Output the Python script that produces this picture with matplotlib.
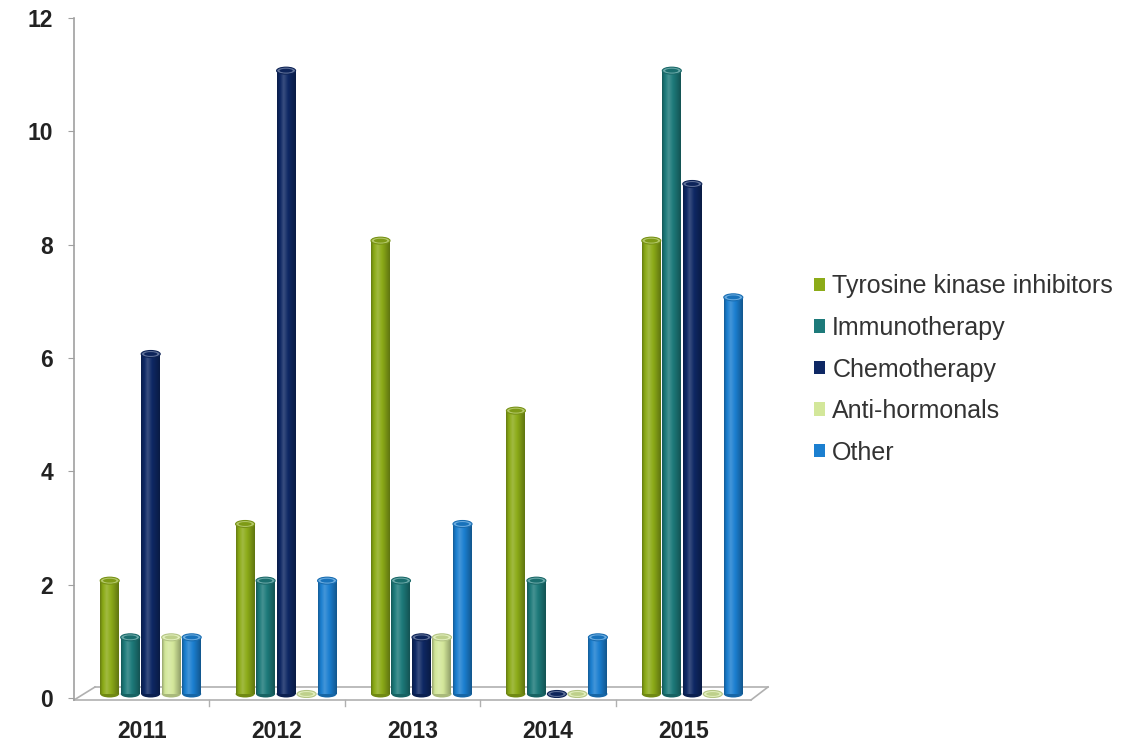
import numpy as np
import matplotlib
matplotlib.use("Agg")
import matplotlib.pyplot as plt
from matplotlib.patches import Ellipse, Patch
from matplotlib.colors import to_rgb

plt.rcParams['font.family'] = ['Liberation Sans', 'DejaVu Sans']

years = ["2011", "2012", "2013", "2014", "2015"]
series = ["Tyrosine kinase inhibitors", "Immunotherapy", "Chemotherapy", "Anti-hormonals", "Other"]
tki = [2, 3, 8, 5, 8]
immuno = [1, 2, 2, 2, 11]
chemo = [6, 11, 1, 0, 9]
anti = [1, 0, 1, 0, 0]
other = [1, 2, 3, 1, 7]
values = [tki, immuno, chemo, anti, other]
colors = ["#8cab18", "#1d7a7a", "#0e2864", "#d3e79a", "#1b7fd0"]
yticks = [0, 2, 4, 6, 8, 10, 12]

W, H = 1140, 744
fig = plt.figure(figsize=(W / 100, H / 100), dpi=100)
ax = fig.add_axes([74 / W, (H - 698) / H, (751 - 74) / W, (698 - 18) / H])
ax.set_xlim(-0.5, 4.5)
ax.set_ylim(0, 12)

px_x = 5 / (751 - 74)     # data units per px horizontally
px_y = 12 / (698 - 18)    # data units per px vertically

bw = 19 * px_x
step = 20.5 * px_x
shift = 9 * px_x
lift = 4 * px_y
cap_h = 7 * px_y

x = np.arange(len(years))

def shade(c, f):
    c = np.array(to_rgb(c))
    if f >= 1:
        return tuple(c + (1 - c) * (f - 1))
    return tuple(c * f)

t = np.linspace(0, 1, 64)
prof = np.interp(t, [0, 0.12, 0.35, 0.7, 1.0], [0.72, 0.95, 1.18, 0.92, 0.68])

for i, (vals, col) in enumerate(zip(values, colors)):
    pos = x + shift + (i - 2) * step
    bars = ax.bar(pos, vals, width=bw, bottom=lift, color=col, zorder=3, linewidth=0)
    for b, v in zip(bars, vals):
        x0, w, h = b.get_x(), b.get_width(), b.get_height()
        cx = x0 + w / 2
        if h > 0:
            grad = np.array([[shade(col, f) for f in prof]])
            ax.imshow(grad, extent=(x0, x0 + w, lift, lift + h), aspect='auto',
                      zorder=3.5, interpolation='bilinear')
            ax.add_patch(Ellipse((cx, lift), w, cap_h, facecolor=shade(col, 0.8),
                                 edgecolor='none', zorder=3.2))
        top = lift + h
        ax.add_patch(Ellipse((cx, top), w, cap_h, facecolor=shade(col, 1.35),
                             edgecolor=shade(col, 0.85), linewidth=0.8, zorder=4))
        ax.add_patch(Ellipse((cx, top), w * 0.7, cap_h * 0.55, facecolor=shade(col, 0.9),
                             edgecolor='none', zorder=4.1))

# floor (pseudo-3D)
fy = -2 * px_y
by = 11 * px_y
dx = 21 * px_x
fl = dict(color="#b0b0b0", linewidth=1.2, clip_on=False, zorder=2)
ax.plot([-0.5, 4.5], [fy, fy], **fl)
ax.plot([-0.5 + dx, 4.5 + 17 * px_x], [by, by], **fl)
ax.plot([-0.5, -0.5 + dx], [fy, by], **fl)
ax.plot([4.5, 4.5 + 17 * px_x], [fy, by], **fl)
ax.plot([-0.5, -0.5], [fy, 12], color="#a0a0a0", linewidth=1.2, clip_on=False, zorder=2)
for k in range(1, 5):
    ax.plot([k - 0.5, k - 0.5], [fy, fy - 6 * px_y], color="#b0b0b0", linewidth=1.0, clip_on=False)

for s in ax.spines.values():
    s.set_visible(False)
ax.set_yticks(yticks)
ax.set_yticklabels([str(v) for v in yticks])
ax.tick_params(axis='y', length=4, color="#a0a0a0", pad=11, labelsize=16.5,
               labelcolor="#222222")
ax.set_xticks(x)
ax.set_xticklabels(years)
ax.tick_params(axis='x', length=0, pad=15.5, labelsize=16.5, labelcolor="#222222")
for lbl in ax.get_xticklabels() + ax.get_yticklabels():
    lbl.set_fontweight('bold')

handles = [Patch(facecolor=c, edgecolor='none') for c in colors]
leg = fig.legend(handles, series, loc='upper left', bbox_to_anchor=(796 / W, 1 - 257 / H),
                 frameon=False, fontsize=18, handlelength=0.45, handleheight=0.45,
                 handletextpad=0.3, labelspacing=0.7, borderpad=0.2)
for txt in leg.get_texts():
    txt.set_color("#333333")

fig.savefig("out.png", dpi=100)
